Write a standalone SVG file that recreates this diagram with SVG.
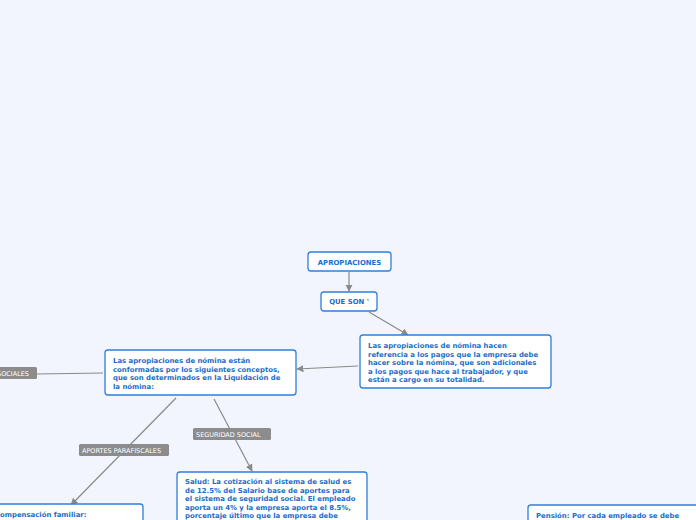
<svg xmlns="http://www.w3.org/2000/svg" width="696" height="520" viewBox="0 0 696 520">
<defs>
<style>
.node rect{fill:#ffffff;stroke:#2f7fdc;stroke-width:1.3}
.t{font-family:"DejaVu Sans",Verdana,sans-serif;font-weight:bold;font-size:6.9px;fill:#1b6cc9}
.lbl rect{fill:#8c8c8c}
.lt{font-family:"DejaVu Sans",Verdana,sans-serif;font-size:6.5px;fill:#ffffff}
.c{stroke:#8a8a8a;stroke-width:1.2;fill:none}
</style>
<marker id="ah" viewBox="0 0 10 10" refX="9" refY="5" markerWidth="6" markerHeight="6" orient="auto">
<path d="M0,0 L10,5 L0,10 z" fill="#8a8a8a"/>
</marker>
</defs>
<rect width="696" height="520" fill="#f2f5fd"/>
<g id="connectors">
<line class="c" x1="349" y1="272" x2="349" y2="291" marker-end="url(#ah)"/>
<line class="c" x1="369" y1="312" x2="408" y2="335" marker-end="url(#ah)"/>
<line class="c" x1="358" y1="366" x2="297" y2="369" marker-end="url(#ah)"/>
<line class="c" x1="103" y1="373" x2="37" y2="374"/>
<line class="c" x1="176" y1="398" x2="71" y2="505" marker-end="url(#ah)"/>
<line class="c" x1="214" y1="399" x2="252" y2="471" marker-end="url(#ah)"/>
</g>
<g id="lbl-sociales" class="lbl"><rect x="-6" y="367" width="43" height="12" rx="1.5"/><text class="lt" x="-3" y="375.5">SOCIALES</text></g>
<g id="lbl-parafiscales" class="lbl"><rect x="79" y="444" width="90" height="12" rx="1.5"/><text class="lt" x="82" y="452.5">APORTES PARAFISCALES</text></g>
<g id="lbl-seguridad" class="lbl"><rect x="193" y="428" width="78" height="12" rx="1.5"/><text class="lt" x="196" y="436.5">SEGURIDAD SOCIAL</text></g>
<g id="n-apropiaciones" class="node"><rect x="308" y="252" width="83" height="19" rx="3"/><text class="t" x="349.5" y="264.5" text-anchor="middle">APROPIACIONES</text></g>
<g id="n-queson" class="node"><rect x="321" y="292" width="56" height="19" rx="3"/><text class="t" x="349" y="304" text-anchor="middle">QUE SON '</text></g>
<g id="n-definicion" class="node"><rect x="360" y="335" width="191" height="53" rx="3"/>
<text class="t"><tspan x="368" y="348">Las apropiaciones de nómina hacen</tspan><tspan x="368" y="356.6">referencia a los pagos que la empresa debe</tspan><tspan x="368" y="365.2">hacer sobre la nómina, que son adicionales</tspan><tspan x="368" y="373.8">a los pagos que hace al trabajador, y que</tspan><tspan x="368" y="382.4">están a cargo en su totalidad.</tspan></text></g>
<g id="n-conceptos" class="node"><rect x="105" y="350" width="191" height="45" rx="3"/>
<text class="t"><tspan x="113" y="363">Las apropiaciones de nómina están</tspan><tspan x="113" y="371.6">conformadas por los siguientes conceptos,</tspan><tspan x="113" y="380.2">que son determinados en la Liquidación de</tspan><tspan x="113" y="388.8">la nómina:</tspan></text></g>
<g id="n-salud" class="node"><rect x="177" y="472" width="190" height="62" rx="3"/>
<text class="t"><tspan x="185" y="484">Salud: La cotización al sistema de salud es</tspan><tspan x="185" y="492.6">de 12.5% del Salario base de aportes para</tspan><tspan x="185" y="501.2">el sistema de seguridad social. El empleado</tspan><tspan x="185" y="509.8">aporta un 4% y la empresa aporta el 8.5%,</tspan><tspan x="185" y="518.4">porcentaje último que la empresa debe</tspan></text></g>
<g id="n-compensacion" class="node"><rect x="-10" y="504" width="153" height="30" rx="3"/><text class="t" x="-5" y="517">Compensación familiar:</text></g>
<g id="n-pension" class="node"><rect x="528" y="505" width="175" height="30" rx="3"/><text class="t" x="536" y="518">Pensión: Por cada empleado se debe</text></g>
</svg>
